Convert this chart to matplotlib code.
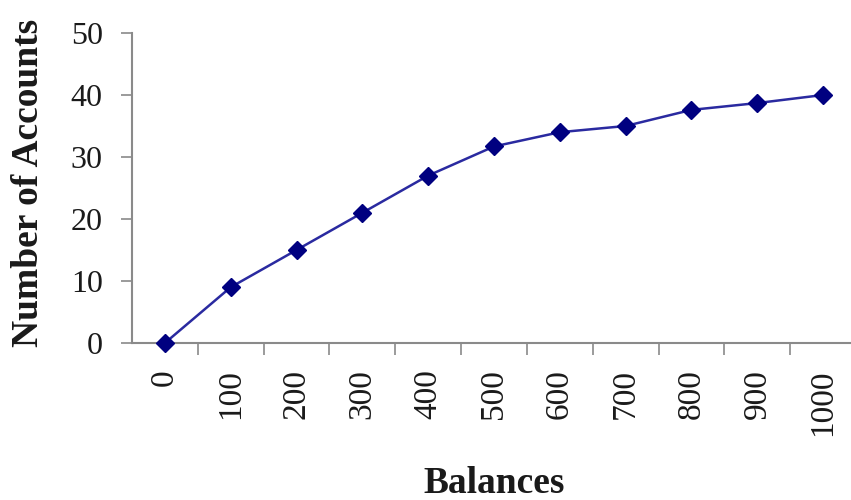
import matplotlib
matplotlib.use("Agg")
import matplotlib.pyplot as plt

balances = ["0", "100", "200", "300", "400", "500", "600", "700", "800", "900", "1000"]
accounts = [0, 9, 15, 21, 27, 31.7, 34, 35, 37.6, 38.7, 40]
y_ticks = [0, 10, 20, 30, 40, 50]

plt.rcParams["font.family"] = ["Liberation Serif", "DejaVu Serif"]
text_color = "#1a1a1a"
axis_color = "#8a8a8a"

fig = plt.figure(figsize=(8.51, 5.0), dpi=100)
ax = fig.add_axes([132 / 851, 157 / 500, 724 / 851, 310 / 500])

x = list(range(len(balances)))
ax.plot(x, accounts, color="#2a2aa0", linewidth=1.8, marker="D",
        markersize=9, markerfacecolor="#000080", markeredgecolor="#000080",
        clip_on=False, zorder=3)

ax.set_xlim(-0.5, len(balances) - 0.5)
ax.set_ylim(0, 50)
ax.set_yticks(y_ticks)
ax.set_xticks(x)
ax.set_xticklabels(balances, rotation=90, fontsize=24, color=text_color)
ax.set_xticks([i + 0.5 for i in x[:-1]], minor=True)
ax.tick_params(axis="x", which="major", length=0, pad=19)
ax.tick_params(axis="x", which="minor", length=8.5, width=1.2, color=axis_color)
ax.tick_params(axis="y", length=8, width=1.2, color=axis_color,
               labelsize=23, labelcolor=text_color, pad=13)

for side in ("top", "right"):
    ax.spines[side].set_visible(False)
for side in ("left", "bottom"):
    ax.spines[side].set_color(axis_color)
    ax.spines[side].set_linewidth(1.5)

fig.text(38 / 851, (500 - 347) / 500, "Number of Accounts", rotation=90,
         rotation_mode="anchor", ha="left", va="baseline",
         fontsize=27, fontweight="bold", color=text_color)
fig.text(494 / 851, (500 - 493) / 500, "Balances", ha="center", va="baseline",
         fontsize=27, fontweight="bold", color=text_color)

fig.savefig("out.png", dpi=100, facecolor="white")
